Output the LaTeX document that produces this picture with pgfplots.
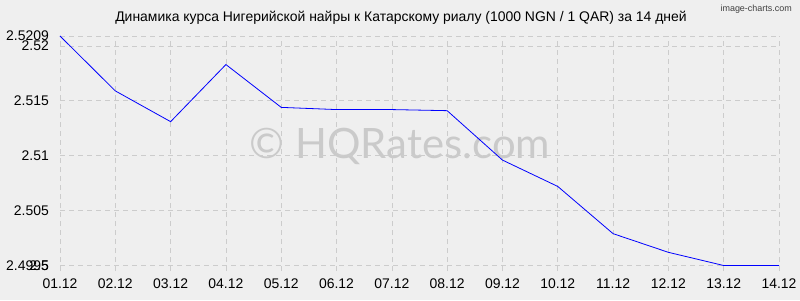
\documentclass[border=0pt]{standalone}
\usepackage{fontspec}
\setmainfont{Liberation Sans}
\newfontfamily\wmfont{Lato}
\usepackage{pgfplots}
\pgfplotsset{compat=1.18}
\definecolor{bg}{RGB}{239,239,239}
\definecolor{gridc}{RGB}{204,204,204}
\definecolor{wm}{RGB}{202,202,202}
\begin{document}
\begin{tikzpicture}[x=1bp,y=1bp]
\fill[bg] (0,0) rectangle (800,300);
\node[anchor=north east, font=\fontsize{9}{10}\selectfont, text=black!75, inner sep=0] at (792,295) {image-charts.com};
\node[font=\fontsize{14}{16}\selectfont, inner sep=0] at (401,282) {Динамика курса Нигерийской найры к Катарскому риалу (1000 NGN / 1 QAR) за 14 дней};
\node[font=\wmfont\fontsize{42}{44}\selectfont, text=wm, inner sep=0] at (400,154) {© HQRates.com};
\begin{axis}[
  at={(60bp,29bp)}, anchor=south west,
  scale only axis, width=719bp, height=235bp,
  xmin=0, xmax=13, ymin=2.4995, ymax=2.5209,
  axis line style={draw=none},
  major tick length=0pt,
  tick style={draw=none},
  clip=false,
  grid=major,
  grid style={gridc, dash pattern=on 5bp off 4bp, line width=0.6bp},
  xtick={0,...,13},
  xticklabels={01.12,02.12,03.12,04.12,05.12,06.12,07.12,08.12,09.12,10.12,11.12,12.12,13.12,14.12},
  ytick={2.5,2.505,2.51,2.515,2.52,2.5209},
  yticklabels={2.5,2.505,2.51,2.515,2.52,2.5209},
  extra y ticks={2.5},
  extra y tick labels={2.4995},
  extra y tick style={grid=none},
  tick label style={font=\fontsize{14}{16}\selectfont},
  yticklabel style={anchor=east, inner sep=0pt, xshift=-11bp},
  xticklabel style={anchor=north, inner sep=0pt, yshift=-8bp},
  /pgf/number format/assume math mode=true,
]
\addplot[blue, line width=0.8bp] coordinates {
(0,2.5209) (1,2.5159) (2,2.5131) (3,2.5183) (4,2.5144) (5,2.5142) (6,2.5142)
(7,2.5141) (8,2.5096) (9,2.5072) (10,2.5029) (11,2.5012) (12,2.5000) (13,2.5000)
};
\end{axis}
\end{tikzpicture}
\end{document}
